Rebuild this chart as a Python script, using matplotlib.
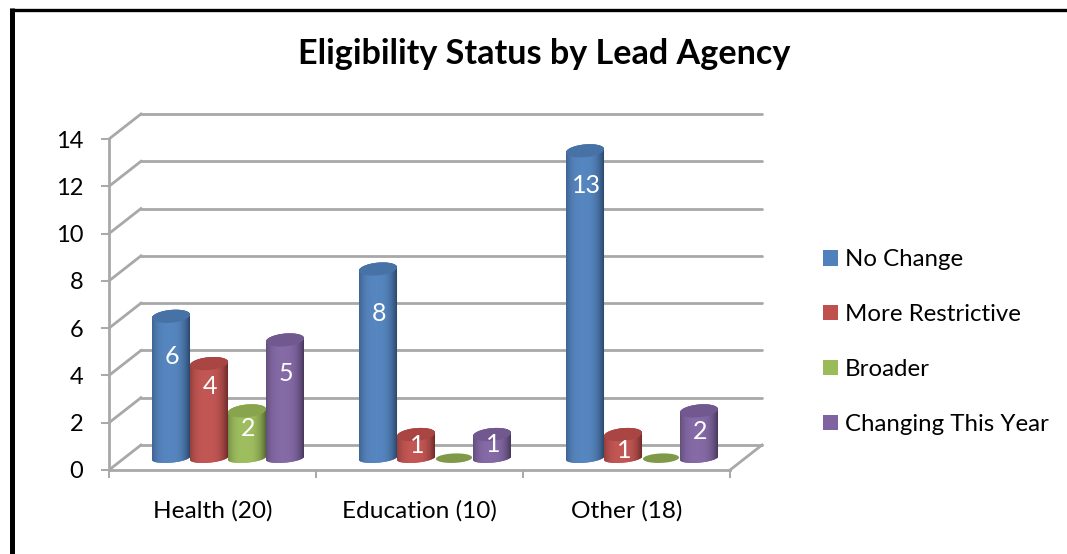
import numpy as np
import matplotlib
matplotlib.use("Agg")
import matplotlib.pyplot as plt
from matplotlib.colors import to_rgb
from matplotlib.lines import Line2D
from matplotlib.patches import Patch, PathPatch, Polygon
from matplotlib.path import Path

# ---- data ----
categories = ["Health (20)", "Education (10)", "Other (18)"]
no_change = [6, 8, 13]
more_restrictive = [4, 1, 1]
broader = [2, 0, 0]
changing_this_year = [5, 1, 2]
series_names = ["No Change", "More Restrictive", "Broader", "Changing This Year"]
y_ticks = [0, 2, 4, 6, 8, 10, 12, 14]

# ---- style ----
series_values = [no_change, more_restrictive, broader, changing_this_year]
series_colors = ["#4F81BD", "#C0504D", "#9BBB59", "#8064A2"]
GRID = "#a8a8a8"
W, H = 1067, 554

plt.rcParams["font.family"] = ["Lato", "DejaVu Sans"]
fig = plt.figure(figsize=(W / 100, H / 100), dpi=100, facecolor="white")
ax = fig.add_axes([109 / W, 1 - 470 / H, 621 / W, 331 / H])
ax.set_facecolor("none")

ncat = len(categories)
# Perspective of the fake 3D box, in data units
back_dx, back_dy = 32 / 207, 25 / 23.64
depth_dx, depth_dy = 0.075, 0.5
bar_w = 0.1835
ell_h, ell_tilt = 0.27, 0.07


def mix(c, other, t):
    return tuple((1 - t) * a + t * b for a, b in zip(c, other))


def ellipse_xy(cx, cy, t, w=bar_w, h=ell_h, tilt=ell_tilt):
    return (cx + w / 2 * np.cos(t),
            cy + h * np.sin(t) + tilt * np.cos(t))


# Walls and floor
for v in y_ticks:
    ax.plot([back_dx, ncat + back_dx], [v + back_dy, v + back_dy],
            color=GRID, lw=2.0, clip_on=False, zorder=1, solid_capstyle="round")
    ax.plot([0, back_dx], [v, v + back_dy],
            color=GRID, lw=2.0, clip_on=False, zorder=1)
ax.plot([ncat, ncat + back_dx], [0, back_dy], color=GRID, lw=2.0,
        clip_on=False, zorder=1)

# Cylinders
label_drop_px = [[40, 44, 35], [23, 11, 16], [18, 0, 0], [34, 10, 21]]
tt = np.linspace(0, 2 * np.pi, 80)
lower = np.linspace(0, -np.pi, 40)
for s, (vals, col) in enumerate(zip(series_values, series_colors)):
    rgb = to_rgb(col)
    dark = mix(rgb, (0, 0, 0), 0.32)
    light = mix(rgb, (1, 1, 1), 0.04)
    for c, v in enumerate(vals):
        cx = c + 0.5 + depth_dx + (s - 1.5) * bar_w
        base = depth_dy
        z = 3 + s + 4 * c
        if v == 0:
            ex, ey = ellipse_xy(cx, base, tt, w=bar_w * 0.95, h=0.2, tilt=0.03)
            ax.add_patch(Polygon(np.column_stack([ex, ey]), closed=True,
                                 facecolor=mix(rgb, (0, 0, 0), 0.18),
                                 edgecolor="none", zorder=z, clip_on=False))
            continue
        top = base + v
        ax.bar(cx, v, bottom=base, width=bar_w, color=col, zorder=z)
        # silhouette: bottom half ellipse + top half ellipse
        bx, by = ellipse_xy(cx, base, lower, h=0.19)
        tx, ty = ellipse_xy(cx, top, np.linspace(np.pi, 0, 40))
        verts = np.column_stack([np.r_[bx, tx], np.r_[by, ty]])
        sil = PathPatch(Path(np.vstack([verts, verts[:1]]), closed=True),
                        facecolor=col, edgecolor="none", zorder=z + 0.1,
                        transform=ax.transData)
        ax.add_patch(sil)
        # horizontal shading across the cylinder
        u = np.linspace(0, 1, 64)
        shade = 1 - np.abs(2 * u - 0.9) ** 3.0
        img = np.array([[mix(dark, light, s_) for s_ in shade]])
        im = ax.imshow(img, extent=[cx - bar_w / 2, cx + bar_w / 2,
                                    base - 0.5, top + 0.5],
                       aspect="auto", zorder=z + 0.2, interpolation="bilinear")
        im.set_clip_path(sil)
        ex, ey = ellipse_xy(cx, top, tt)
        ax.add_patch(Polygon(np.column_stack([ex, ey]), closed=True,
                             facecolor=mix(rgb, (0, 0, 0), 0.12),
                             edgecolor="none", zorder=z + 0.3))
        ax.annotate(str(v), (cx, top), xytext=(0.7, -label_drop_px[s][c] * 0.72),
                    textcoords="offset points", ha="center", va="center",
                    color="white", fontsize=18, zorder=z + 0.4)

# Axes
ax.set_xlim(0, ncat)
ax.set_ylim(0, 14)
ax.set_xticks(range(ncat + 1))
ax.set_xticklabels([])
ax.set_xticks([i + 0.5 for i in range(ncat)], minor=True)
ax.set_xticklabels(categories, minor=True, fontsize=17.6, color="black")
ax.tick_params(axis="x", which="minor", length=0, pad=22)
ax.tick_params(axis="x", which="major", length=5.5, width=1.4, color=GRID)
ax.set_yticks(y_ticks)
ax.tick_params(axis="y", length=5.5, width=1.4, color=GRID, pad=13,
               labelsize=17, labelcolor="black")
for side in ("top", "right"):
    ax.spines[side].set_visible(False)
for side in ("left", "bottom"):
    ax.spines[side].set_color(GRID)
    ax.spines[side].set_linewidth(2.0)

# Title
fig.text(544.5 / W, 1 - 54.5 / H, "Eligibility Status by Lead Agency",
         ha="center", va="center", fontsize=24.6, fontweight="bold", color="black")

# Legend
handles = [Patch(facecolor=c, edgecolor="none", label=n)
           for c, n in zip(series_colors, series_names)]
fig.legend(handles=handles, loc="center left",
           bbox_to_anchor=(823 / W, 1 - 342 / H), bbox_transform=fig.transFigure,
           frameon=False, fontsize=17.3, labelspacing=1.41, handlelength=0.63,
           handleheight=0.63, handletextpad=0.27, borderpad=0, borderaxespad=0)

# Outer frame, top and left edges only
fig.add_artist(Line2D([11.5 / W, 11.5 / W], [0, 1 - 8 / H], color="black",
                      lw=3.6, transform=fig.transFigure, solid_capstyle="butt"))
fig.add_artist(Line2D([9.5 / W, 1], [1 - 9.6 / H, 1 - 9.6 / H], color="black",
                      lw=2.4, transform=fig.transFigure, solid_capstyle="butt"))

fig.savefig("out.png", dpi=100, facecolor="white")
